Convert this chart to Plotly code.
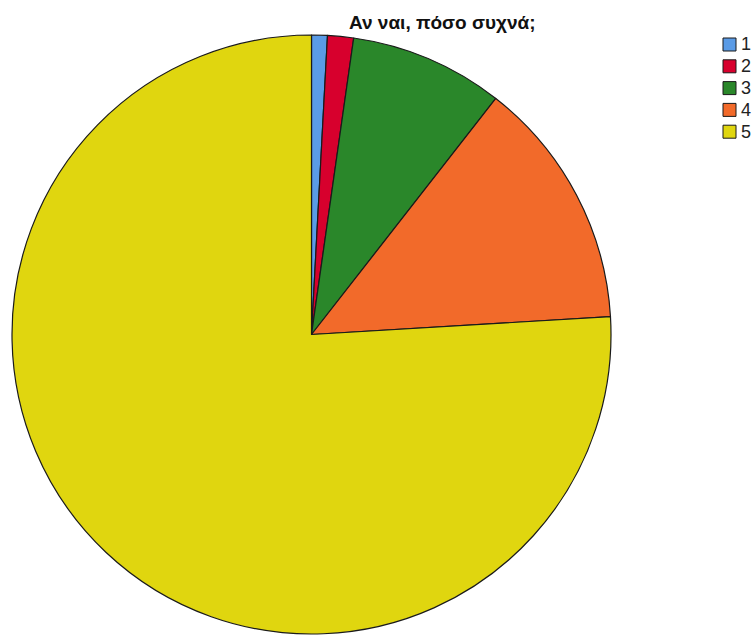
import plotly.graph_objects as go

# Response categories and their shares (%)
categories = ["1", "2", "3", "4", "5"]
shares = [0.85, 1.4, 8.3, 13.5, 75.95]
colors = ["#5A9BE6", "#D7002D", "#2A872A", "#F26A2A", "#E0D60F"]
title_text = "Αν ναι, πόσο συχνά;"

W, H = 753, 635

fig = go.Figure(
    go.Pie(
        labels=categories,
        values=shares,
        sort=False,
        direction="clockwise",
        rotation=0,
        textinfo="none",
        hoverinfo="label+percent",
        marker=dict(colors=colors, line=dict(color="#1a1a1a", width=1.2)),
        domain=dict(x=[12 / W, 611 / W], y=[1 - 634 / H, 1 - 35 / H]),
        showlegend=False,
    )
)

# Compact legend at the top right: colour swatch followed by the category label
shapes = []
annotations = []
box_left, box_size, top0, step = 723, 13, 38, 21.8
for i, (cat, col) in enumerate(zip(categories, colors)):
    y0 = top0 + i * step
    shapes.append(
        dict(
            type="rect",
            xref="paper", yref="paper",
            x0=box_left / W, x1=(box_left + box_size) / W,
            y0=1 - (y0 + box_size) / H, y1=1 - y0 / H,
            fillcolor=col,
            line=dict(color="#1a1a1a", width=1),
        )
    )
    annotations.append(
        dict(
            text=cat,
            xref="paper", yref="paper",
            x=(box_left + box_size + 3) / W, y=1 - (y0 + box_size / 2) / H,
            xanchor="left", yanchor="middle",
            showarrow=False,
            font=dict(family="Liberation Sans, Arial, sans-serif", size=18, color="#222222"),
        )
    )

annotations.append(
    dict(
        text="<b>" + title_text + "</b>",
        xref="paper", yref="paper",
        x=442.5 / W, y=1 - 23 / H,
        xanchor="center", yanchor="middle",
        showarrow=False,
        font=dict(family="Liberation Sans, Arial, sans-serif", size=19, color="#111111"),
    )
)

fig.update_layout(
    width=W,
    height=H,
    margin=dict(l=0, r=0, t=0, b=0),
    paper_bgcolor="white",
    plot_bgcolor="white",
    shapes=shapes,
    annotations=annotations,
)

fig.write_html("out.html")
